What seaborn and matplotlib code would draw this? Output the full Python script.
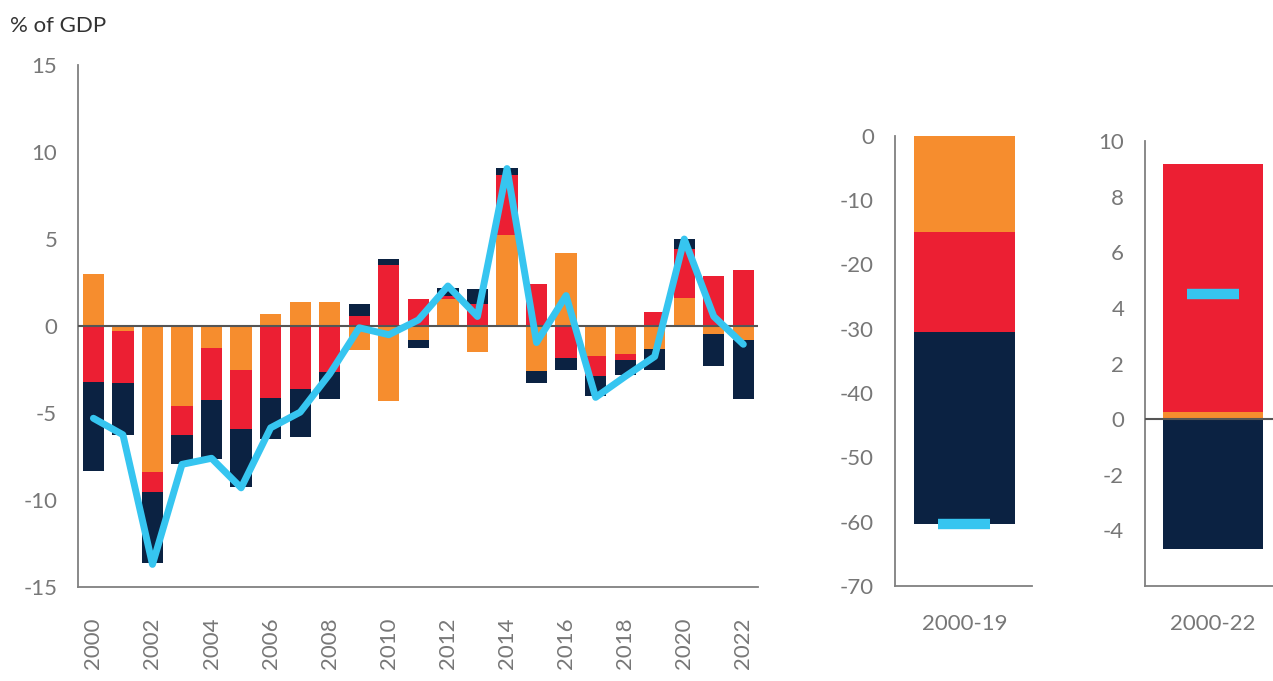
import numpy as np
import pandas as pd
import matplotlib
matplotlib.use("Agg")
import matplotlib.pyplot as plt
import seaborn as sns

# ============================
# DATA (% of GDP)
# ============================
years = [str(y) for y in range(2000, 2023)]
orange_vals = [3.0, -0.27, -8.4, -4.57, -1.24, -2.52, 0.67, 1.36, 1.36, -1.38, -4.32, -0.82,
               1.55, -1.51, 5.22, -2.56, 4.17, -1.72, -1.6, -1.32, 1.61, -0.46, -0.8]
red_vals = [-3.23, -2.98, -1.16, -1.68, -3.01, -3.39, -4.11, -3.62, -2.62, 0.59, 3.5, 1.53,
            0.2, 1.29, 3.44, 2.39, -1.82, -1.15, -0.35, 0.82, 2.81, 2.87, 3.21]
navy_vals = [-5.09, -3.0, -4.04, -1.69, -3.38, -3.35, -2.39, -2.73, -1.58, 0.65, 0.38, -0.42,
             0.45, 0.86, 0.42, -0.73, -0.7, -1.18, -0.87, -1.2, 0.57, -1.84, -3.41]
total_vals = [-5.3, -6.25, -13.7, -7.95, -7.6, -9.3, -5.85, -4.95, -2.75, -0.1, -0.5, 0.35,
              2.3, 0.55, 9.05, -0.95, 1.75, -4.1, -2.9, -1.75, 5.0, 0.55, -1.05]

# cumulative panels
cum19_label = ["2000-19"]
cum19_orange = [-15.0]
cum19_red = [-15.5]
cum19_navy = [-29.9]
cum19_total = [-60.3]

cum22_label = ["2000-22"]
cum22_orange = [0.27]
cum22_red = [8.92]
cum22_navy = [-4.68]
cum22_total = [4.52]

ORANGE = "#F68D2E"
RED = "#EC1F33"
NAVY = "#0B2242"
BLUE = "#36C5F0"
GREY = "#808080"
TXT = "#777777"

sns.set_theme(style="white")
plt.rcParams["font.family"] = ["Lato", "DejaVu Sans"]
plt.rcParams["axes.unicode_minus"] = False


def stacked(ax, cats, layers, width):
    # stack positive and negative parts separately
    pos = np.zeros(len(cats))
    neg = np.zeros(len(cats))
    for vals, col in layers:
        vals = np.asarray(vals, dtype=float)
        bottom = np.where(vals >= 0, pos, neg)
        df = pd.DataFrame({"cat": cats, "val": vals})
        sns.barplot(data=df, x="cat", y="val", color=col, saturation=1, width=width,
                    bottom=bottom, errorbar=None, ax=ax, linewidth=0, zorder=2)
        pos = pos + np.where(vals >= 0, vals, 0)
        neg = neg + np.where(vals < 0, vals, 0)


def style(ax, label_pad):
    for s in ["top", "right"]:
        ax.spines[s].set_visible(False)
    for s in ["left", "bottom"]:
        ax.spines[s].set_color(GREY)
        ax.spines[s].set_linewidth(1.3)
    ax.tick_params(axis="both", length=0, labelsize=16, colors=TXT)
    ax.tick_params(axis="y", pad=15)
    ax.tick_params(axis="x", pad=label_pad)
    ax.set_xlabel("")
    ax.set_ylabel("")


fig = plt.figure(figsize=(12.73, 6.81), dpi=100)

# ============================
# MAIN CHART
# ============================
ax = fig.add_axes([0.0613, 0.138, 0.534, 0.7665])
stacked(ax, years, [(orange_vals, ORANGE), (red_vals, RED), (navy_vals, NAVY)], 0.72)
ax.axhline(0, color="#555555", lw=1.5, zorder=3)
line_df = pd.DataFrame({"year": years, "total": total_vals})
sns.lineplot(data=line_df, x="year", y="total", color=BLUE, lw=5, ax=ax, zorder=4,
             solid_joinstyle="round", solid_capstyle="round", sort=False)
ax.set_ylim(-15, 15)
ax.set_yticks([15, 10, 5, 0, -5, -10, -15])
ax.set_xlim(-0.52, 22.49)
ax.set_xticks(range(0, 23, 2))
ax.set_xticklabels(years[::2], rotation=90, va="top")
style(ax, 22)
fig.text(0.008, 0.962, "% of GDP", fontsize=16, color="#333333", va="center", ha="left")

# ============================
# 2000-19 PANEL
# ============================
ax1 = fig.add_axes([0.703, 0.1395, 0.1076, 0.661])
stacked(ax1, cum19_label, [(cum19_orange, ORANGE), (cum19_red, RED), (cum19_navy, NAVY)], 0.8)
ax1.plot(cum19_label, cum19_total, marker="_", ms=38, mew=7.5, color=BLUE, ls="none", zorder=4)
ax1.set_ylim(-70, 0)
ax1.set_yticks(range(0, -71, -10))
ax1.set_xlim(-0.55, 0.535)
style(ax1, 20)

# ============================
# 2000-22 PANEL
# ============================
ax2 = fig.add_axes([0.8995, 0.1395, 0.1005, 0.653])
stacked(ax2, cum22_label, [(cum22_orange, ORANGE), (cum22_red, RED), (cum22_navy, NAVY)], 0.8)
ax2.axhline(0, color="#555555", lw=1.5, zorder=3)
ax2.plot(cum22_label, cum22_total, marker="_", ms=38, mew=7.5, color=BLUE, ls="none", zorder=4)
ax2.set_ylim(-6, 10)
ax2.set_yticks([10, 8, 6, 4, 2, 0, -2, -4])
ax2.set_xlim(-0.544, 0.48)
style(ax2, 20)

fig.savefig("out.png", dpi=100)
